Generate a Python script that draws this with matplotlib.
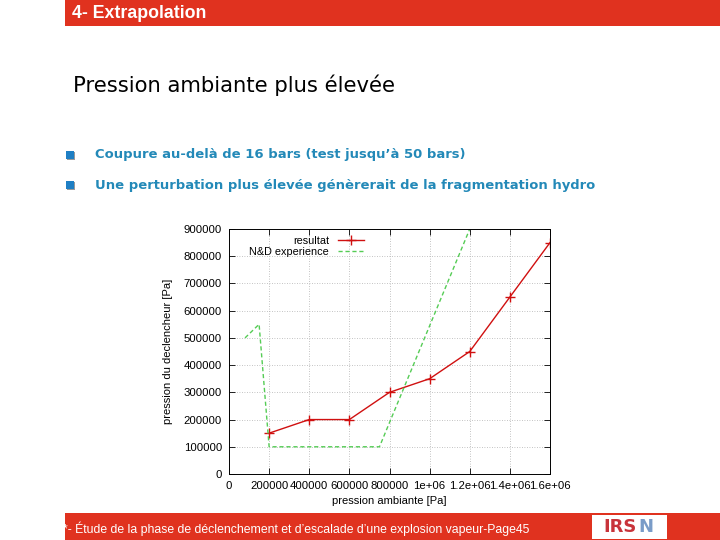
import matplotlib
matplotlib.use("Agg")
import matplotlib.pyplot as plt
from matplotlib.patches import Rectangle
from matplotlib.ticker import FuncFormatter

# ---- data ----
res_x = [200000, 400000, 600000, 800000, 1000000, 1200000, 1400000, 1600000]
res_y = [150000, 200000, 200000, 300000, 350000, 450000, 650000, 850000]
exp_x = [80000, 150000, 200000, 750000, 1200000]
exp_y = [500000, 550000, 100000, 100000, 900000]
x_ticks = [0, 200000, 400000, 600000, 800000, 1000000, 1200000, 1400000, 1600000]
x_tick_labels = ["0", "200000", "400000", "600000", "800000", "1e+06", "1.2e+06", "1.4e+06", "1.6e+06"]
y_ticks = [0, 100000, 200000, 300000, 400000, 500000, 600000, 700000, 800000, 900000]

W, H = 720, 540
fig = plt.figure(figsize=(7.2, 5.4), dpi=100)
fig.patch.set_facecolor("white")

def fx(px):
    return px / W

def fy(py):
    return 1 - py / H

RED = "#e0321f"
# header bar
fig.patches.append(Rectangle((fx(65), fy(26)), fx(720 - 65), 26 / H, transform=fig.transFigure,
                             facecolor=RED, edgecolor="none"))
fig.text(fx(72), fy(14), "4- Extrapolation", color="white", fontsize=12.8, fontweight="bold",
         family="Liberation Sans", va="center", ha="left")

# title
fig.text(fx(73), fy(85), "Pression ambiante plus élevée", color="black", fontsize=15.2,
         family="DejaVu Sans", va="center", ha="left")

# bullets
bullets = ["Coupure au-delà de 16 bars (test jusqu’à 50 bars)",
           "Une perturbation plus élevée génèrerait de la fragmentation hydro"]
for i, b in enumerate(bullets):
    yc = 155 + 30 * i
    fig.patches.append(Rectangle((fx(67), fy(yc + 5)), fx(8), 8 / H, transform=fig.transFigure,
                                 facecolor="#9a9a9a", edgecolor="none"))
    fig.patches.append(Rectangle((fx(66), fy(yc + 4)), fx(8), 8 / H, transform=fig.transFigure,
                                 facecolor="#1f7fc4", edgecolor="none"))
    fig.text(fx(95), fy(yc), b, color="#2389b8", fontsize=9.45, fontweight="semibold",
             family="DejaVu Sans", va="center", ha="left")

# footer
fig.patches.append(Rectangle((fx(65), 0), fx(720 - 65), 27 / H, transform=fig.transFigure,
                             facecolor=RED, edgecolor="none"))
fig.text(fx(63), fy(529), "*- Étude de la phase de déclenchement et d’escalade d’une explosion vapeur-Page45",
         color="white", fontsize=8.8, family="Liberation Sans", va="center", ha="left")
fig.patches.append(Rectangle((fx(592), fy(539)), fx(75), 24 / H, transform=fig.transFigure,
                             facecolor="white", edgecolor="none"))
fig.text(fx(603), fy(527), "IRS", color="#c8333a", fontsize=13, fontweight="bold",
         family="DejaVu Sans", va="center", ha="left")
fig.text(fx(638), fy(527), "N", color="#7a9cc8", fontsize=13, fontweight="bold",
         family="DejaVu Sans", va="center", ha="left")

# chart
ax = fig.add_axes([fx(229), fy(474), (550 - 229) / W, (474 - 229) / H])
ax.plot(res_x, res_y, color="#d01010", lw=1.0, marker="+", markersize=7, mew=1.0, label="resultat")
ax.plot(exp_x, exp_y, color="#55cc55", lw=1.0, ls=(0, (3, 2)), label="N&D experience")
ax.set_xlim(0, 1600000)
ax.set_ylim(0, 900000)
ax.set_xticks(x_ticks)
ax.set_xticklabels(x_tick_labels)
ax.set_yticks(y_ticks)
ax.yaxis.set_major_formatter(FuncFormatter(lambda v, p: f"{int(v)}"))
ax.grid(True, color="#b0b0b0", ls=(0, (1, 2)), lw=0.6)
ax.tick_params(direction="in", top=True, right=True, length=4, width=0.6,
               labelsize=8.2, pad=5)
for lab in ax.get_xticklabels() + ax.get_yticklabels():
    lab.set_family("Liberation Sans")
for s in ax.spines.values():
    s.set_linewidth(0.7)
ax.set_xlabel("pression ambiante [Pa]", fontsize=8, family="Liberation Sans", labelpad=4)
ax.set_ylabel("pression du declencheur [Pa]", fontsize=8, family="Liberation Sans", labelpad=8)
leg = ax.legend(loc="upper right", bbox_to_anchor=(0.44, 1.0), frameon=False, markerfirst=False,
                prop={"family": "Liberation Sans", "size": 7.8}, handlelength=2.4,
                labelspacing=0.1, borderaxespad=0.2, handletextpad=0.8)

fig.savefig("out.png", dpi=100)
